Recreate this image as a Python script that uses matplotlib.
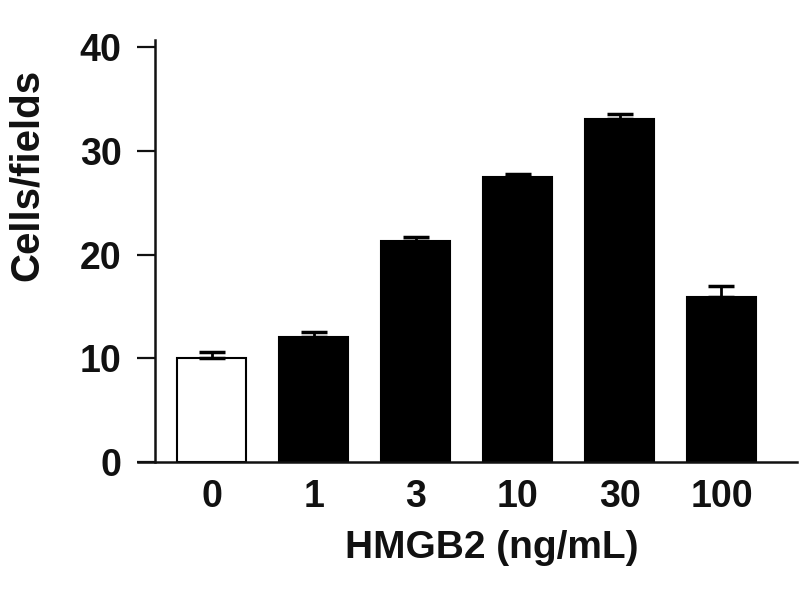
import matplotlib
matplotlib.use("Agg")
import matplotlib.pyplot as plt

plt.rcParams['font.family'] = ['Liberation Sans', 'DejaVu Sans']

categories = ["0", "1", "3", "10", "30", "100"]
values = [10.0, 12.05, 21.3, 27.5, 33.1, 15.9]
errors = [0.6, 0.45, 0.4, 0.3, 0.5, 1.1]
bar_colors = ["white", "black", "black", "black", "black", "black"]
yticks = [0, 10, 20, 30, 40]

fig = plt.figure(figsize=(8, 6), dpi=100)
ax = fig.add_axes([138/800, 1-462/600, (797-138)/800, (462-40)/600])

x = list(range(len(categories)))
ax.bar(x, values, width=0.677, color=bar_colors, edgecolor="black", linewidth=1.5, zorder=2)
ax.errorbar(x, values, yerr=[[0]*len(errors), errors], fmt="none", ecolor="black",
            elinewidth=2, capsize=9.5, capthick=2.5, zorder=3)

ax.set_xlim(-0.726, 5.741)
ax.set_ylim(0, 40.7)
ax.spines['left'].set_position(('data', -0.559))
ax.spines['top'].set_visible(False)
ax.spines['right'].set_visible(False)
for s in ('left', 'bottom'):
    ax.spines[s].set_linewidth(1.8)
    ax.spines[s].set_color('#111111')

ax.set_yticks(yticks)
ax.set_yticklabels([str(t) for t in yticks])
ax.set_xticks(x)
ax.set_xticklabels(categories)
ax.tick_params(axis='y', length=13, width=1.6, pad=11, labelsize=27, colors='#111111')
ax.tick_params(axis='x', length=0, pad=12, labelsize=27, colors='#111111')
for lab in ax.get_yticklabels() + ax.get_xticklabels():
    lab.set_fontweight('bold')

ax.set_ylabel("Cells/fields", fontsize=29, fontweight='bold', color='#111111')
ax.yaxis.set_label_coords(-0.14, 0.68)
ax.set_xlabel("HMGB2 (ng/mL)", fontsize=28, fontweight='bold', color='#111111')
ax.xaxis.set_label_coords(0.537, -0.16)

fig.savefig("out.png", dpi=100)
